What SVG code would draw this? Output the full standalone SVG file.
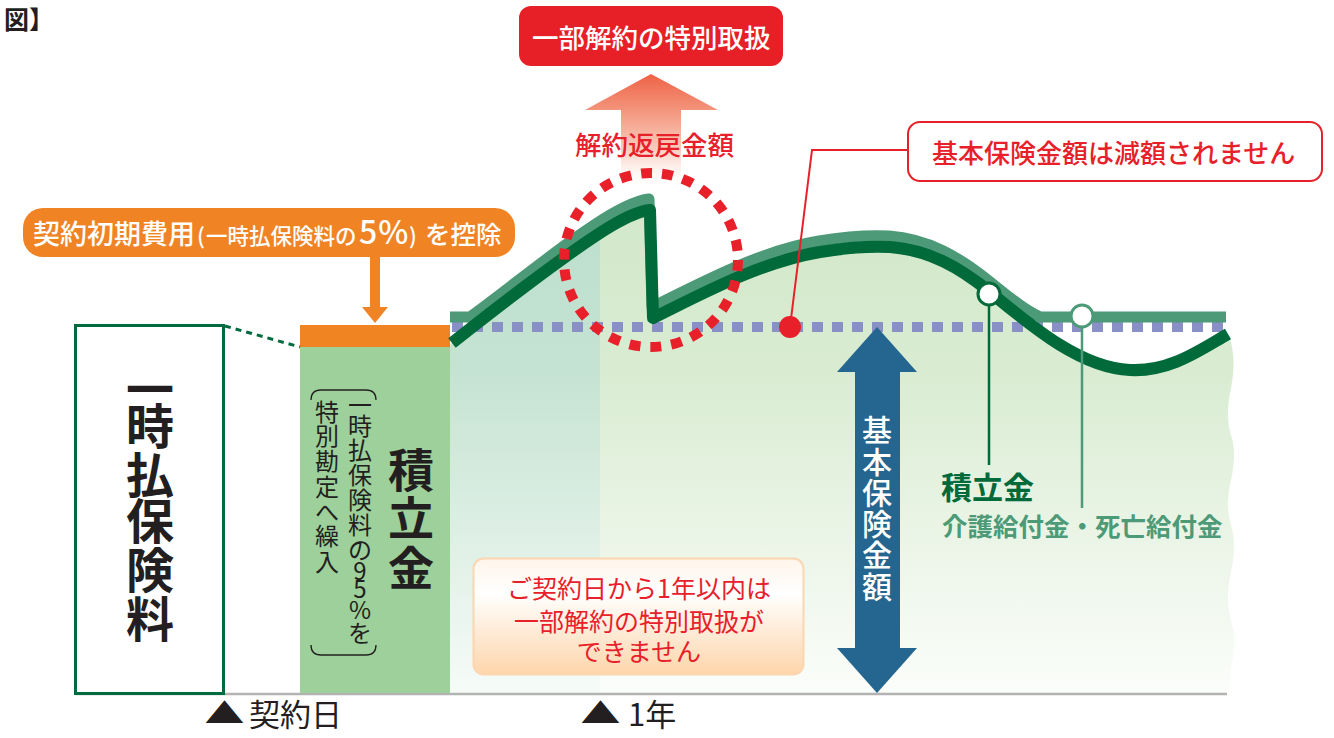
<svg xmlns="http://www.w3.org/2000/svg" width="1334" height="738" viewBox="0 0 1334 738">
<style>
text{font-family:"Noto Sans CJK JP","Noto Sans CJK SC",sans-serif;}
.b{font-weight:700}
.m{font-weight:500}
.wh{fill:#ffffff}
.rd{fill:#e8202a}
.bk{fill:#231f20}
</style>
<defs>
<clipPath id="area">
<path d="M450,345 L452,343 C490,313 530,282 565,257 C600,232 630,212 650,210 L653,318 C700,295 760,262 820,252 C850,247 870,246 890,247 C930,250 960,268 990,292 C1030,325 1080,368 1130,370 C1170,372 1200,350 1229,335 Q1237,360 1231,388 T1231,435 T1231,480 T1231,525 T1231,572 T1231,620 T1231,668 L1229,693 L450,693 Z"/>
</clipPath>
<linearGradient id="gR" x1="0" y1="200" x2="0" y2="693" gradientUnits="userSpaceOnUse">
<stop offset="0" stop-color="#d2e8c9"/>
<stop offset="0.35" stop-color="#d9ecd2"/>
<stop offset="1" stop-color="#fbfdfa"/>
</linearGradient>
<linearGradient id="gL" x1="0" y1="200" x2="0" y2="693" gradientUnits="userSpaceOnUse">
<stop offset="0" stop-color="#bcdfcd"/>
<stop offset="0.35" stop-color="#c5e3d2"/>
<stop offset="1" stop-color="#f6fbf8"/>
</linearGradient>
<linearGradient id="gA" x1="0" y1="74" x2="0" y2="190" gradientUnits="userSpaceOnUse">
<stop offset="0" stop-color="#ee6246"/>
<stop offset="0.3" stop-color="#f3937a"/>
<stop offset="0.65" stop-color="#f9cdbd"/>
<stop offset="1" stop-color="#ffffff" stop-opacity="0"/>
</linearGradient>
<linearGradient id="gN" x1="0" y1="558" x2="0" y2="675" gradientUnits="userSpaceOnUse">
<stop offset="0" stop-color="#fff4ea"/>
<stop offset="0.3" stop-color="#ffffff"/>
<stop offset="1" stop-color="#fdd5aa"/>
</linearGradient>
</defs>

<!-- title fragment -->
<text x="4" y="29" font-size="25" class="b bk">図】</text>

<!-- chart area -->
<g id="chart-area">
<rect x="450" y="190" width="800" height="503" fill="url(#gR)" clip-path="url(#area)"/>
<rect x="450" y="190" width="150" height="503" fill="url(#gL)" clip-path="url(#area)"/>
</g>

<!-- baseline -->
<line x1="75" y1="694" x2="1227" y2="694" stroke="#b3b3b3" stroke-width="2.5"/>

<!-- premium box -->
<g id="premium">
<rect x="75.5" y="325.5" width="148" height="368" fill="#ffffff" stroke="#006b3f" stroke-width="3"/>
<text x="150 150 150 150 150 150" y="407 444 493 539 588 637" text-anchor="middle" font-size="48" class="b bk">一時払保険料</text>
</g>

<!-- accumulation column -->
<g id="reserve">
<rect x="300" y="347" width="150" height="346" fill="#9dd09a"/>
<rect x="300" y="325" width="150" height="22" fill="#f08322"/>
<text x="411 411 411" y="487 535 585" text-anchor="middle" font-size="46" class="b bk">積立金</text>
<text x="360 360 360 360 360 360 360 360 360 360 360" y="414 435 459 484 509 534 559 580 598 619 642" text-anchor="middle" font-size="24" class="bk">一時払保険料の95%を</text>
<text x="327 327 327 327 327 327 327" y="421 445 470 496 521 545 571" text-anchor="middle" font-size="24" class="bk">特別勘定へ繰入</text>
<path d="M311,400 Q311,390 321,390 L366,390 Q376,390 376,400" fill="none" stroke="#231f20" stroke-width="1.3"/>
<path d="M311,645 Q311,655 321,655 L366,655 Q376,655 376,645" fill="none" stroke="#231f20" stroke-width="1.3"/>
</g>

<!-- cost label -->
<g id="cost-label">
<rect x="23" y="208" width="492" height="49" rx="20" fill="#f08424"/>
<text y="244" class="m wh"><tspan x="33" font-size="27">契約初期費用</tspan><tspan x="197" font-size="22">(</tspan><tspan x="206" font-size="21.5">一時払保険料の</tspan><tspan x="359" font-size="32" letter-spacing="1">5%</tspan><tspan x="409" font-size="22">)</tspan><tspan x="425" font-size="25.5">を控除</tspan></text>
</g>

<!-- partial surrender label -->
<g id="surrender-label">
<rect x="519" y="6" width="264" height="60" rx="12" fill="#e71f26"/>
<text x="532" y="47.5" font-size="26.5" class="m wh">一部解約の特別取扱</text>
</g>

<!-- surrender value arrow -->
<g id="surrender-arrow">
<polygon points="651,74 718,110 681,110 681,190 621,190 621,110 585,110" fill="url(#gA)"/>
<text x="575" y="155" font-size="26.5" class="m rd">解約返戻金額</text>
</g>

<!-- basic amount label -->
<g id="basic-label">
<rect x="908" y="122" width="414" height="59" rx="12" fill="#ffffff" stroke="#e8202a" stroke-width="2"/>
<text x="932" y="162.5" font-size="26" class="m rd">基本保険金額は減額されません</text>
</g>

<!-- note box -->
<g id="note">
<rect x="473.5" y="558.5" width="330" height="116" rx="10" fill="url(#gN)" stroke="#fcd6b0" stroke-width="2"/>
<text text-anchor="middle" font-size="25" class="rd"><tspan x="639" y="598">ご契約日から1年以内は</tspan><tspan x="639" y="631">一部解約の特別取扱が</tspan><tspan x="639" y="661">できません</tspan></text>
</g>

<g id="connectors">
<!-- dashed link premium to column -->
<line x1="225" y1="326" x2="300" y2="347" stroke="#006b3f" stroke-width="3" stroke-dasharray="6 5"/>
<!-- orange arrow -->
<rect x="370" y="257" width="10" height="51" fill="#f08424"/>
<polygon points="362,307 388,307 375,323" fill="#f08424"/>
<!-- basic amount dotted line -->
<line x1="452" y1="327" x2="1226" y2="327" stroke="#8990c6" stroke-width="10" stroke-dasharray="11 9"/>
<!-- death benefit line -->
<path d="M450,317 L470,317 C500,295 530,271 564,246 C599,221 629,201 649,199 L652,307 C699,284 759,251 819,241 C849,236 869,235 889,236 C929,239 959,257 989,281 C1010,298 1025,310 1040,317 L1226,317" fill="none" stroke="#4d9a78" stroke-width="11" stroke-linejoin="round"/>
<!-- accumulation line -->
<path d="M452,343 C490,313 530,282 565,257 C600,232 630,212 650,210 L653,318 C700,295 760,262 820,252 C850,247 870,246 890,247 C930,250 960,268 990,292 C1030,325 1080,368 1130,370 C1170,372 1200,350 1228,334" fill="none" stroke="#006a3a" stroke-width="12" stroke-linejoin="round"/>
<!-- red dotted circle -->
<circle cx="651" cy="260" r="87" fill="none" stroke="#e8202a" stroke-width="10" stroke-dasharray="11 10.02"/>
<!-- red pointer -->
<polyline points="790,327 812,150 908,150" fill="none" stroke="#e8202a" stroke-width="2"/>
<circle cx="790" cy="327" r="11" fill="#e8202a"/>
<!-- pointers to legend -->
<line x1="989" y1="305" x2="989" y2="465" stroke="#006a3a" stroke-width="2.5"/>
<line x1="1082" y1="327" x2="1082" y2="508" stroke="#4d9a78" stroke-width="2.5"/>
<circle cx="989" cy="294" r="11" fill="#ffffff" stroke="#006a3a" stroke-width="3"/>
<circle cx="1082" cy="316" r="11" fill="#ffffff" stroke="#4d9a78" stroke-width="3"/>
</g>

<!-- basic amount double arrow -->
<g id="basic-amount">
<polygon points="877,327 917,372 900,372 900,648 917,648 877,693 837,648 855,648 855,372 837,372" fill="#246690"/>
<text x="877 877 877 877 877 877" y="441 473 504 535 566 598" text-anchor="middle" font-size="30" class="m wh">基本保険金額</text>
</g>

<!-- legend -->
<g id="legend">
<text x="941" y="499" font-size="31" class="b" fill="#006a3a">積立金</text>
<text x="942" y="536" font-size="25.5" class="b" fill="#4d9a78">介護給付金・死亡給付金</text>
</g>

<!-- time axis labels -->
<g id="axis-labels">
<text transform="translate(224.5,724) scale(1,0.7)" text-anchor="middle" font-size="40" class="bk">▲</text>
<text x="249" y="726" font-size="31" class="bk">契約日</text>
<text transform="translate(600.5,724) scale(1,0.7)" text-anchor="middle" font-size="40" class="bk">▲</text>
<text x="628" y="726" font-size="31" class="bk">1年</text>
</g>
</svg>
